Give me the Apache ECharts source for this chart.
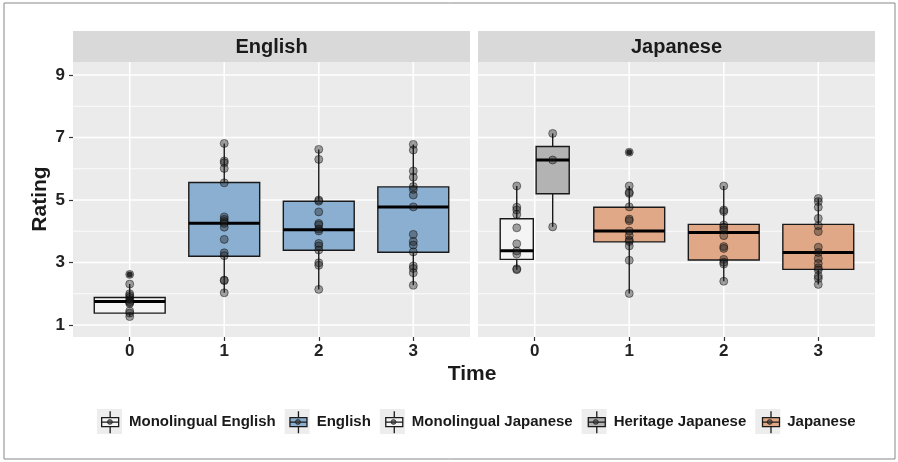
<!DOCTYPE html>
<html>
<head>
<meta charset="utf-8">
<script src="https://cdn.jsdelivr.net/npm/echarts@6/dist/echarts.min.js"></script>
<style>
html,body{margin:0;padding:0;background:#fff;}
#chart{width:898px;height:462px;}
</style>
</head>
<body>
<div id="chart"></div>
<script>
var times = [0, 1, 2, 3];
var yTicks = [1, 3, 5, 7, 9];
var yMinor = [2, 4, 6, 8];
var groupNames = ['Monolingual English', 'English', 'Monolingual Japanese', 'Heritage Japanese', 'Japanese'];
var groupFills = ['#f4f4f4', '#8bafd0', '#f4f4f4', '#b3b3b3', '#e0a886'];

// box stats: [time, lower whisker, q1, median, q3, upper whisker]
var monoEngBox = [[0, 1.27, 1.38, 1.75, 1.88, 2.31]];
var engBox = [
	[1, 2.03, 3.20, 4.26, 5.56, 6.81],
	[2, 2.14, 3.39, 4.05, 4.96, 6.62],
	[3, 2.27, 3.33, 4.78, 5.42, 6.78]
];
var monoJpnBox = [[0, 2.77, 3.10, 3.38, 4.40, 5.45]];
var herJpnBox = [[0, 4.14, 5.20, 6.28, 6.71, 7.13]];
var jpnBox = [
	[1, 2.01, 3.66, 4.01, 4.77, 5.45],
	[2, 2.40, 3.08, 3.96, 4.22, 5.45],
	[3, 2.30, 2.78, 3.32, 4.22, 5.05]
];
// outliers: [time, rating]
var monoEngOut = [[0, 2.62]];
var jpnOut = [[1, 6.53]];

// individual ratings, one list per time
var monoEngPts = [[2.62, 2.31, 2.00, 1.94, 1.88, 1.81, 1.75, 1.72, 1.69, 1.45, 1.38, 1.27]];
var engPts = [
	[6.81, 6.25, 6.19, 6.01, 5.55, 4.46, 4.38, 4.31, 4.25, 4.13, 3.74, 3.31, 3.22, 2.44, 2.42, 2.03],
	[6.62, 6.30, 5.00, 4.96, 4.62, 4.25, 4.20, 4.07, 4.01, 3.61, 3.53, 3.40, 2.99, 2.91, 2.14],
	[6.78, 6.60, 5.93, 5.73, 5.43, 5.34, 5.16, 4.78, 3.90, 3.67, 3.56, 3.34, 2.89, 2.81, 2.67, 2.27]
];
var monoJpnPts = [[5.45, 4.77, 4.68, 4.54, 4.11, 3.60, 3.37, 3.27, 2.80, 2.77]];
var herJpnPts = [[7.13, 6.28, 4.14]];
var jpnPts = [
	[6.53, 5.45, 5.25, 5.21, 4.78, 4.39, 4.34, 4.01, 3.86, 3.72, 3.67, 3.53, 3.07, 2.01],
	[5.45, 4.68, 4.63, 4.20, 4.13, 4.04, 3.86, 3.51, 3.45, 3.10, 3.01, 2.95, 2.40],
	[5.05, 4.95, 4.77, 4.41, 4.18, 3.99, 3.49, 3.32, 3.13, 2.97, 2.83, 2.76, 2.57, 2.49, 2.30]
];

var FONT = 'Liberation Sans, Arial, sans-serif';
var INK = '#1a1a1a';
var dodge = 0.19;

function gridItem(params, api){
	var cs = params.coordSys;
	var kind = api.value(0);
	var v = api.value(1);
	if(kind == 2){
		var px = api.coord([v, 5])[0];
		return {type:'line', shape:{x1:px, y1:cs.y, x2:px, y2:cs.y+cs.height}, style:{stroke:'#fff', lineWidth:1.6}};
	}
	var py = api.coord([0, v])[1];
	return {type:'line', shape:{x1:cs.x, y1:py, x2:cs.x+cs.width, y2:py},
		style:{stroke:'#fff', lineWidth: kind==0 ? 1.6 : 0.8}};
}

function gridData(){
	var d = [];
	yTicks.forEach(function(v){ d.push([0, v]); });
	yMinor.forEach(function(v){ d.push([1, v]); });
	times.forEach(function(v){ d.push([2, v]); });
	return d;
}

function boxSeries(name, data, gi, fill, offset, width){
	return {
		name: name,
		type: 'custom',
		xAxisIndex: gi, yAxisIndex: gi,
		z: 2,
		itemStyle: {color: fill},
		encode: {x: 0, y: [1, 2, 3, 4, 5]},
		data: data,
		renderItem: function(params, api){
			var x = api.value(0) + offset;
			var lo = api.coord([x, api.value(1)]);
			var q1 = api.coord([x, api.value(2)]);
			var md = api.coord([x, api.value(3)]);
			var q3 = api.coord([x, api.value(4)]);
			var hi = api.coord([x, api.value(5)]);
			var left = api.coord([x - width/2, 0])[0];
			var right = api.coord([x + width/2, 0])[0];
			var ws = {stroke: INK, lineWidth: 1.4};
			return {type:'group', children:[
				{type:'line', shape:{x1:lo[0], y1:lo[1], x2:q1[0], y2:q1[1]}, style:ws},
				{type:'line', shape:{x1:q3[0], y1:q3[1], x2:hi[0], y2:hi[1]}, style:ws},
				{type:'rect', shape:{x:left, y:q3[1], width:right-left, height:q1[1]-q3[1]},
					style:{fill:fill, stroke:INK, lineWidth:1.4}},
				{type:'line', shape:{x1:left, y1:md[1], x2:right, y2:md[1]}, style:{stroke:'#000', lineWidth:3}}
			]};
		}
	};
}

function pointData(list, startTime, offset){
	var d = [];
	list.forEach(function(vals, i){
		vals.forEach(function(v){ d.push([startTime + i + offset, v]); });
	});
	return d;
}

function outData(list, offset){
	return list.map(function(p){ return [p[0] + offset, p[1]]; });
}

function xAxisFor(gi){
	return {
		gridIndex: gi, type: 'value', min: -0.6, max: 3.6,
		axisLine: {show: false, onZero: false},
		splitLine: {show: false},
		axisTick: {show: true, length: 4, customValues: times, lineStyle: {color: '#333', width: 1.2}},
		axisLabel: {customValues: times, fontFamily: FONT, fontSize: 17, fontWeight: 'bold', color: '#222', margin: 6}
	};
}

function yAxisFor(gi){
	return {
		gridIndex: gi, type: 'value', min: 0.616, max: 9.416,
		axisLine: {show: false, onZero: false},
		splitLine: {show: false},
		axisTick: {show: gi == 0, length: 4, customValues: yTicks, lineStyle: {color: '#333', width: 1.2}},
		axisLabel: {show: gi == 0, customValues: yTicks, fontFamily: FONT, fontSize: 17, fontWeight: 'bold', color: '#222', margin: 8}
	};
}

// legend keys are stacked in three layers: grey key background, box glyph, centre dot
var keyBg = 'path://M0,0 L25,0 L25,25 L0,25 Z';
var keyBox = 'path://M0,0 L0,0 M25,25 L25,25 M12.5,1.5 L12.5,8 M4,8 L21,8 L21,17 L4,17 Z M4,12.5 L21,12.5 M12.5,17 L12.5,23.5';
var keyDot = 'path://M0,0 L0,0 M25,25 L25,25 M15,12.5 A2.5,2.5 0 1 1 10,12.5 A2.5,2.5 0 1 1 15,12.5 Z';

function legendLayer(items, textColor){
	return {
		left: 92, top: 404,
		itemWidth: 25, itemHeight: 25, itemGap: 9,
		selectedMode: false,
		data: items,
		textStyle: {fontFamily: FONT, fontSize: 15, fontWeight: 'bold', color: textColor, padding: [0, 0, 0, 2]}
	};
}

var chart = echarts.init(document.getElementById('chart'), null, {renderer: 'canvas'});

var pointStyle = {color: 'rgba(30,30,30,0.5)', borderColor: 'rgba(0,0,0,0.55)', borderWidth: 1};

var option = {
	backgroundColor: '#fff',
	animation: false,
	grid: [
		{left: 73, top: 62, width: 397, height: 275, show: true, backgroundColor: '#ebebeb', borderWidth: 0},
		{left: 478, top: 62, width: 397, height: 275, show: true, backgroundColor: '#ebebeb', borderWidth: 0}
	],
	xAxis: [xAxisFor(0), xAxisFor(1)],
	yAxis: [yAxisFor(0), yAxisFor(1)],
	legend: [
		legendLayer(groupNames.map(function(n){
			return {name: n, icon: keyBg, itemStyle: {color: '#ededed', borderWidth: 0}};
		}), INK),
		legendLayer(groupNames.map(function(n, i){
			return {name: n, icon: keyBox, itemStyle: {color: groupFills[i], borderColor: INK, borderWidth: 1.3}};
		}), 'rgba(0,0,0,0)'),
		legendLayer(groupNames.map(function(n){
			return {name: n, icon: keyDot, itemStyle: {color: 'rgba(60,60,60,0.75)', borderColor: 'rgba(0,0,0,0.6)', borderWidth: 0.8}};
		}), 'rgba(0,0,0,0)')
	],
	graphic: [
		{type: 'rect', shape: {x: 4, y: 3, width: 891, height: 456}, style: {fill: 'none', stroke: '#888', lineWidth: 1}, silent: true},
		{type: 'rect', shape: {x: 73, y: 31, width: 397, height: 31}, style: {fill: '#d9d9d9'}, silent: true},
		{type: 'rect', shape: {x: 478, y: 31, width: 397, height: 31}, style: {fill: '#d9d9d9'}, silent: true},
		{type: 'text', x: 271.5, y: 47, style: {text: 'English', fill: INK, font: 'bold 20px ' + FONT, align: 'center', verticalAlign: 'middle'}},
		{type: 'text', x: 676.5, y: 47, style: {text: 'Japanese', fill: INK, font: 'bold 20px ' + FONT, align: 'center', verticalAlign: 'middle'}},
		{type: 'text', x: 472, y: 374, style: {text: 'Time', fill: INK, font: 'bold 21px ' + FONT, align: 'center', verticalAlign: 'middle'}},
		{type: 'text', x: 40, y: 199, rotation: Math.PI/2, style: {text: 'Rating', fill: INK, font: 'bold 21px ' + FONT, align: 'center', verticalAlign: 'middle'}}
	],
	series: [
		{type: 'custom', name: 'grid0', xAxisIndex: 0, yAxisIndex: 0, z: 1, silent: true, data: gridData(), renderItem: gridItem},
		{type: 'custom', name: 'grid1', xAxisIndex: 1, yAxisIndex: 1, z: 1, silent: true, data: gridData(), renderItem: gridItem},
		boxSeries(groupNames[0], monoEngBox, 0, groupFills[0], 0, 0.75),
		boxSeries(groupNames[1], engBox, 0, groupFills[1], 0, 0.75),
		boxSeries(groupNames[2], monoJpnBox, 1, groupFills[2], -dodge, 0.35),
		boxSeries(groupNames[3], herJpnBox, 1, groupFills[3], dodge, 0.35),
		boxSeries(groupNames[4], jpnBox, 1, groupFills[4], 0, 0.75),
		{type: 'scatter', name: 'out0', xAxisIndex: 0, yAxisIndex: 0, z: 3, symbolSize: 6,
			itemStyle: {color: '#000'}, data: outData(monoEngOut, 0)},
		{type: 'scatter', name: 'out1', xAxisIndex: 1, yAxisIndex: 1, z: 3, symbolSize: 6,
			itemStyle: {color: '#000'}, data: outData(jpnOut, 0)},
		{type: 'scatter', name: 'pts0', xAxisIndex: 0, yAxisIndex: 0, z: 4, symbolSize: 8, itemStyle: pointStyle,
			data: pointData(monoEngPts, 0, 0).concat(pointData(engPts, 1, 0))},
		{type: 'scatter', name: 'pts1', xAxisIndex: 1, yAxisIndex: 1, z: 4, symbolSize: 8, itemStyle: pointStyle,
			data: pointData(monoJpnPts, 0, -dodge).concat(pointData(herJpnPts, 0, dodge)).concat(pointData(jpnPts, 1, 0))}
	]
};

chart.setOption(option);
</script>
</body>
</html>
